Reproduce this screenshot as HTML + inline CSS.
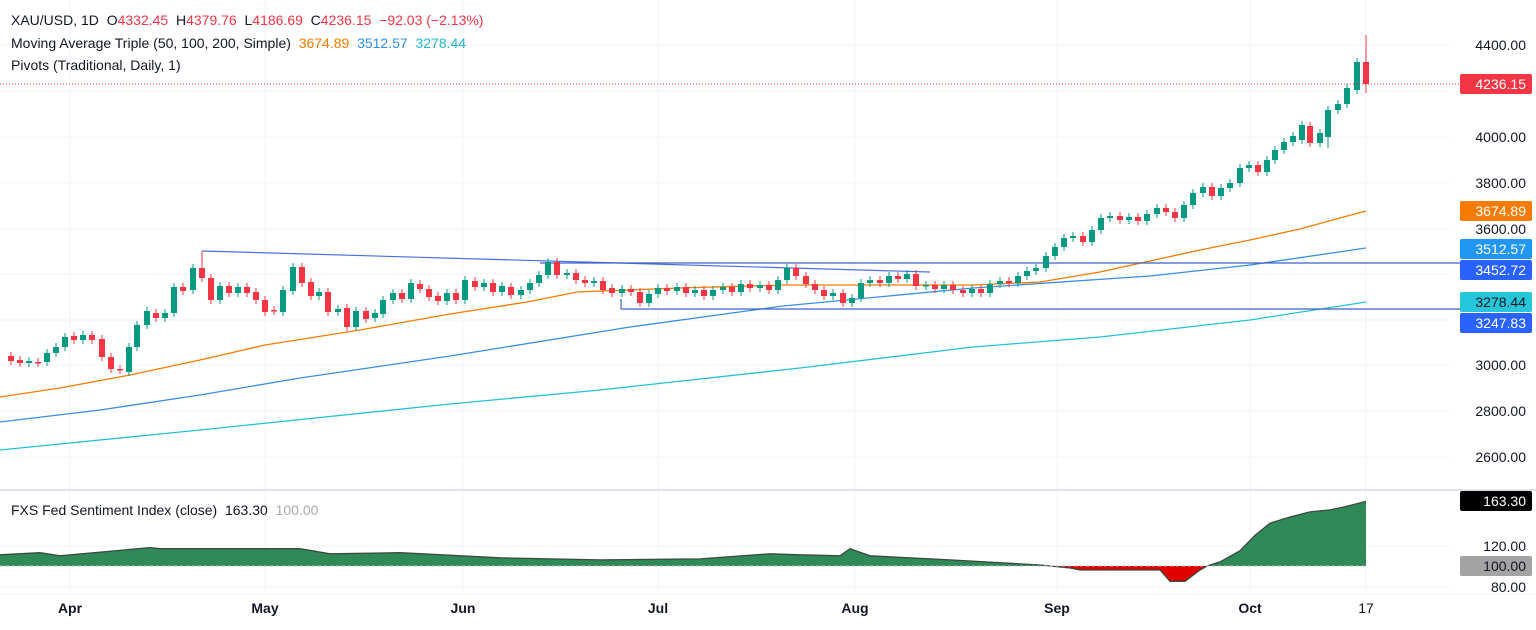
<!DOCTYPE html>
<html><head><meta charset="utf-8">
<style>
html,body{margin:0;padding:0;background:#fff;width:1536px;height:630px;overflow:hidden;font-family:"Liberation Sans",sans-serif;}
svg{position:absolute;left:0;top:0;}
.hd{position:absolute;left:11px;font-size:14px;color:#131722;white-space:nowrap;}
.r{color:#f23645}.o{color:#f57c00}.b{color:#2f8fe8}.cy{color:#22b8cc}
</style></head><body>
<svg width="1536" height="630" xmlns="http://www.w3.org/2000/svg" font-family="Liberation Sans, sans-serif">
<g stroke="#f0f3fa">
<line x1="70" y1="0" x2="70" y2="594"/><line x1="265" y1="0" x2="265" y2="594"/><line x1="463" y1="0" x2="463" y2="594"/><line x1="658" y1="0" x2="658" y2="594"/><line x1="855" y1="0" x2="855" y2="594"/><line x1="1057" y1="0" x2="1057" y2="594"/><line x1="1250" y1="0" x2="1250" y2="594"/><line x1="1366" y1="0" x2="1366" y2="594"/>
<line x1="0" y1="45" x2="1450" y2="45"/><line x1="0" y1="91" x2="1450" y2="91"/><line x1="0" y1="137" x2="1450" y2="137"/><line x1="0" y1="183" x2="1450" y2="183"/><line x1="0" y1="229" x2="1450" y2="229"/><line x1="0" y1="274" x2="1450" y2="274"/><line x1="0" y1="320" x2="1450" y2="320"/><line x1="0" y1="365" x2="1450" y2="365"/><line x1="0" y1="411" x2="1450" y2="411"/><line x1="0" y1="457" x2="1450" y2="457"/>
<line x1="0" y1="546" x2="1450" y2="546"/><line x1="0" y1="587" x2="1450" y2="587"/>
</g>
<line x1="0" y1="490" x2="1536" y2="490" stroke="#e0e3eb" stroke-width="2"/>
<line x1="0" y1="594" x2="1536" y2="594" stroke="#f0f3fa"/>

<!-- MAs -->
<polyline fill="none" stroke="#26c0d6" stroke-width="1.3" points="0,450 200,430 450,404 600,390 800,368 973,347 1100,337 1250,320 1366,302"/>
<polyline fill="none" stroke="#3a8ee6" stroke-width="1.3" points="0,422 100,410 200,395 300,378 450,356 630,327 783,306 973,288 1150,276 1250,265 1366,248"/>
<polyline fill="none" stroke="#f57c00" stroke-width="1.3" points="0,397 60,388 130,375 200,360 265,345 360,330 450,314 527,302 577,292 680,288 783,285 973,285 1040,282 1100,272 1150,261 1200,250 1250,240 1300,229 1340,218 1366,211"/>

<!-- pivots -->
<line x1="202" y1="251" x2="930" y2="272" stroke="#4a6fe0" stroke-width="1.2"/>
<line x1="540" y1="263" x2="1460" y2="263" stroke="#3d62c9" stroke-width="1.2"/>
<line x1="621" y1="309" x2="1460" y2="309" stroke="#3d62c9" stroke-width="1.2"/>
<line x1="621" y1="299" x2="621" y2="309" stroke="#3d62c9" stroke-width="1.2"/>

<!-- wicks -->
<path fill="none" stroke="#089981" d="M29 357V367M47 349V366M56 343V357M65 333V351M83 331V344M129 343V376M137 321V351M147 307V329M165 309V322M174 283V317M193 264V294M220 282V304M238 283V297M283 286V316M293 263V295M319 288V300M338 305V316M356 307V331M375 309V322M383 296V318M393 289V304M411 279V303M447 289V305M465 276V304M484 279V291M502 282V296M521 286V299M530 279V294M539 271V287M548 258V279M567 269V279M594 277V287M622 285V297M649 290V307M658 284V298M677 283V295M695 286V297M713 286V300M723 283V294M741 280V296M760 281V292M778 276V294M787 264V284M833 289V300M852 294V307M861 279V302M870 276V287M889 272V287M907 270V283M926 281V290M944 281V293M972 285V297M990 280V297M1000 277V288M1018 272V287M1027 267V280M1036 264V275M1046 252V272M1055 243V260M1064 234V251M1073 232V242M1092 226V246M1101 214V234M1110 212V222M1129 213V224M1147 210V225M1157 204V218M1184 201V222M1193 189V209M1203 183V197M1221 184V200M1230 179V192M1240 164V187M1249 161V172M1267 156V176M1275 146V164M1284 138V154M1293 132V146M1302 121V144M1320 129V147M1328 106V148M1338 100V114M1347 84V108M1357 58V94"/>
<path fill="none" stroke="#f23645" d="M11 352V365M20 356V367M38 358V367M74 332V344M92 331V344M102 335V361M111 353V373M120 365V374M156 309V322M183 283V295M202 251V282M211 274V304M229 282V297M247 283V297M256 288V304M265 296V316M274 306V315M302 263V287M311 278V300M328 288V316M347 304V331M366 307V323M402 289V303M420 280V293M429 285V301M438 292V305M456 289V304M475 277V291M493 279V296M511 283V299M557 258V279M576 269V284M585 276V287M603 277V294M612 284V297M631 285V296M640 288V307M667 284V295M686 283V297M704 286V300M732 283V296M750 280V292M769 281V294M796 264V280M806 272V288M815 280V294M824 286V300M843 289V307M880 276V287M898 272V283M916 270V290M935 281V293M953 281V294M963 286V297M981 285V297M1009 277V287M1083 232V246M1120 212V224M1138 213V225M1166 204V216M1175 208V222M1212 183V200M1258 161V176M1310 122V147M1366 35V93"/>
<!-- bodies -->
<path fill="#089981" d="M26 361h6v2h-6zM44 353h6v9h-6zM53 347h6v6h-6zM62 337h6v10h-6zM80 335h6v5h-6zM126 347h6v25h-6zM134 325h6v22h-6zM144 311h6v14h-6zM162 313h6v5h-6zM171 287h6v26h-6zM190 268h6v22h-6zM217 286h6v14h-6zM235 287h6v6h-6zM280 290h6v22h-6zM290 267h6v24h-6zM316 292h6v4h-6zM335 309h6v3h-6zM353 311h6v16h-6zM372 313h6v5h-6zM380 300h6v14h-6zM390 293h6v7h-6zM408 283h6v16h-6zM444 293h6v8h-6zM462 280h6v20h-6zM481 283h6v4h-6zM499 286h6v6h-6zM518 290h6v5h-6zM527 283h6v7h-6zM536 275h6v8h-6zM545 262h6v13h-6zM564 273h6v2h-6zM591 281h6v2h-6zM619 289h6v4h-6zM646 294h6v9h-6zM655 288h6v6h-6zM674 287h6v4h-6zM692 290h6v3h-6zM710 290h6v6h-6zM720 287h6v3h-6zM738 284h6v8h-6zM757 285h6v3h-6zM775 280h6v10h-6zM784 268h6v12h-6zM830 293h6v3h-6zM849 298h6v5h-6zM858 283h6v15h-6zM867 280h6v3h-6zM886 276h6v7h-6zM904 274h6v5h-6zM923 285h6v1.5h-6zM941 285h6v4h-6zM969 289h6v4h-6zM987 284h6v9h-6zM997 281h6v3h-6zM1015 276h6v7h-6zM1024 271h6v5h-6zM1033 268h6v3h-6zM1043 256h6v12h-6zM1052 247h6v9h-6zM1061 238h6v9h-6zM1070 236h6v2h-6zM1089 230h6v12h-6zM1098 218h6v12h-6zM1107 216h6v2h-6zM1126 217h6v3h-6zM1144 214h6v7h-6zM1154 208h6v6h-6zM1181 205h6v13h-6zM1190 193h6v12h-6zM1200 187h6v6h-6zM1218 188h6v8h-6zM1227 183h6v5h-6zM1237 168h6v15h-6zM1246 165h6v3h-6zM1264 160h6v12h-6zM1272 150h6v10h-6zM1281 142h6v8h-6zM1290 136h6v6h-6zM1299 125h6v15h-6zM1317 133h6v10h-6zM1325 110h6v27h-6zM1335 104h6v6h-6zM1344 88h6v16h-6zM1354 62h6v28h-6z"/>
<path fill="#f23645" d="M8 356h6v5h-6zM17 360h6v3h-6zM35 362h6v1.5h-6zM71 336h6v4h-6zM89 335h6v5h-6zM99 339h6v18h-6zM108 357h6v12h-6zM117 369h6v1.5h-6zM153 313h6v5h-6zM180 287h6v4h-6zM199 268h6v10h-6zM208 278h6v22h-6zM226 286h6v7h-6zM244 287h6v6h-6zM253 292h6v8h-6zM262 300h6v12h-6zM271 310h6v1.5h-6zM299 267h6v16h-6zM308 282h6v14h-6zM325 292h6v20h-6zM344 308h6v19h-6zM363 311h6v8h-6zM399 293h6v6h-6zM417 284h6v5h-6zM426 289h6v8h-6zM435 296h6v5h-6zM453 293h6v7h-6zM472 281h6v6h-6zM490 283h6v9h-6zM508 287h6v8h-6zM554 262h6v13h-6zM573 273h6v7h-6zM582 280h6v3h-6zM600 281h6v9h-6zM609 288h6v5h-6zM628 289h6v3h-6zM637 292h6v11h-6zM664 288h6v3h-6zM683 287h6v6h-6zM701 290h6v6h-6zM729 287h6v5h-6zM747 284h6v4h-6zM766 285h6v5h-6zM793 268h6v8h-6zM803 276h6v8h-6zM812 284h6v6h-6zM821 290h6v6h-6zM840 293h6v10h-6zM877 280h6v3h-6zM895 276h6v3h-6zM913 274h6v12h-6zM932 285h6v4h-6zM950 285h6v5h-6zM960 290h6v3h-6zM978 289h6v4h-6zM1006 281h6v2h-6zM1080 236h6v6h-6zM1117 216h6v4h-6zM1135 217h6v4h-6zM1163 208h6v4h-6zM1172 212h6v6h-6zM1209 187h6v9h-6zM1255 165h6v7h-6zM1307 126h6v17h-6zM1363 62h6v22h-6z"/>
<line x1="0" y1="84" x2="1460" y2="84" stroke="#f23645" stroke-dasharray="1,2"/>

<!-- sentiment -->
<path fill="#2f8a57" d="M0 566L0 554.8L40 552.7L60 555.8L150 547.6L160 548.7L300 548.7L330 553.8L400 552.7L500 557.8L600 559.9L700 558.9L770 553.8L800 554.8L840 555.8L850 548.7L870 555.8L950 559.9L1040 565L1050 566L1207 566L1220 561.9L1240 550.7L1255 535.4L1270 523.2L1290 517L1310 511.9L1330 509.9L1345 506.8L1366 501.4L1366 566Z"/>
<path fill="#e00000" d="M1050 566L1070 568L1080 570L1160 570L1170 581.3L1185 581.3L1200 570L1207 566Z"/>
<polyline fill="none" stroke="#3a4a40" stroke-width="1.3" points="0,554.8 40,552.7 60,555.8 150,547.6 160,548.7 300,548.7 330,553.8 400,552.7 500,557.8 600,559.9 700,558.9 770,553.8 800,554.8 840,555.8 850,548.7 870,555.8 950,559.9 1040,565 1050,566 1070,568 1080,570 1160,570 1170,581.3 1185,581.3 1200,570 1207,566 1220,561.9 1240,550.7 1255,535.4 1270,523.2 1290,517 1310,511.9 1330,509.9 1345,506.8 1366,501.4"/>
<line x1="0" y1="566" x2="1366" y2="566" stroke="#bbb" stroke-dasharray="3,3"/>

<!-- axis labels -->
<g font-size="14" fill="#131722" text-anchor="end">
<text x="1526" y="50">4400.00</text><text x="1526" y="142">4000.00</text><text x="1526" y="188">3800.00</text><text x="1526" y="234">3600.00</text><text x="1526" y="370">3000.00</text><text x="1526" y="416">2800.00</text><text x="1526" y="462">2600.00</text>
<text x="1526" y="551">120.00</text><text x="1526" y="592">80.00</text>
</g>
<rect x="1460" y="74" width="72" height="20" rx="2" fill="#f23645"/><text x="1526" y="89" font-size="14" fill="#fff" text-anchor="end">4236.15</text>
<rect x="1460" y="201" width="72" height="20" rx="2" fill="#f57c00"/><text x="1526" y="216" font-size="14" fill="#fff" text-anchor="end">3674.89</text>
<rect x="1460" y="239" width="72" height="20" rx="2" fill="#2196f3"/><text x="1526" y="254" font-size="14" fill="#fff" text-anchor="end">3512.57</text>
<rect x="1460" y="260" width="72" height="20" rx="2" fill="#2962ff"/><text x="1526" y="275" font-size="14" fill="#fff" text-anchor="end">3452.72</text>
<rect x="1460" y="292" width="72" height="20" rx="2" fill="#26c6da"/><text x="1526" y="307" font-size="14" fill="#131722" text-anchor="end">3278.44</text>
<rect x="1460" y="313" width="72" height="20" rx="2" fill="#2962ff"/><text x="1526" y="328" font-size="14" fill="#fff" text-anchor="end">3247.83</text>
<rect x="1460" y="491" width="72" height="20" rx="2" fill="#000"/><text x="1526" y="506" font-size="14" fill="#fff" text-anchor="end">163.30</text>
<rect x="1460" y="556" width="72" height="20" rx="2" fill="#a3a3a3"/><text x="1526" y="571" font-size="14" fill="#131722" text-anchor="end">100.00</text>

<g font-size="14" font-weight="bold" fill="#131722" text-anchor="middle">
<text x="70" y="613">Apr</text><text x="265" y="613">May</text><text x="463" y="613">Jun</text><text x="658" y="613">Jul</text><text x="855" y="613">Aug</text><text x="1057" y="613">Sep</text><text x="1250" y="613">Oct</text><text x="1366" y="613" font-weight="normal">17</text>
</g>
</svg>
<div class="hd" style="top:12px">XAU/USD, 1D&nbsp; O<span class="r">4332.45</span>&nbsp; H<span class="r">4379.76</span>&nbsp; L<span class="r">4186.69</span>&nbsp; C<span class="r">4236.15</span>&nbsp; <span class="r">−92.03 (−2.13%)</span></div>
<div class="hd" style="top:35px">Moving Average Triple (50, 100, 200, Simple)&nbsp; <span class="o">3674.89</span>&nbsp; <span class="b">3512.57</span>&nbsp; <span class="cy">3278.44</span></div>
<div class="hd" style="top:57px">Pivots (Traditional, Daily, 1)</div>
<div class="hd" style="top:502px">FXS Fed Sentiment Index (close)&nbsp; 163.30&nbsp; <span style="color:#aaa">100.00</span></div>
</body></html>
